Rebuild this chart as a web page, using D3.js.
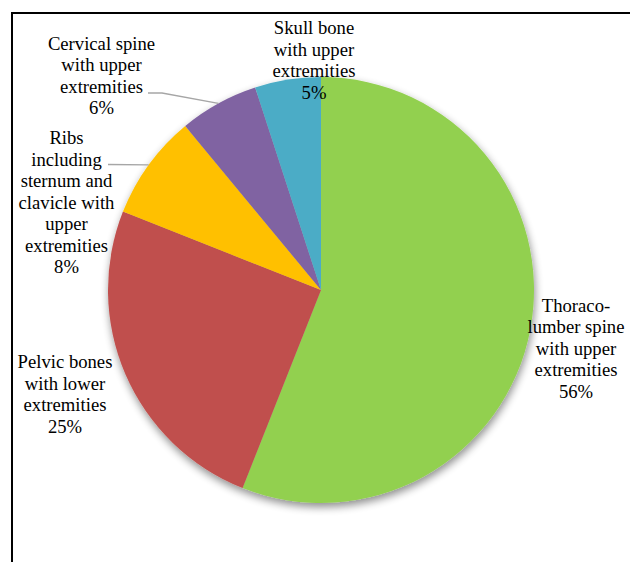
<!DOCTYPE html>
<html>
<head>
<meta charset="utf-8">
<script src="https://cdn.jsdelivr.net/npm/d3@7"></script>
<style>
  html, body { margin: 0; padding: 0; background: #fff; }
  svg { display: block; }
  .lbl { font-family: "Liberation Serif", "Times New Roman", Times, "DejaVu Serif", serif; }
</style>
</head>
<body>
<div id="chart"></div>
<script>
// ---- data ----
const categories = [
  ["Thoraco-", "lumber spine", "with upper", "extremities"],
  ["Pelvic bones", "with lower", "extremities"],
  ["Ribs", "including", "sternum and", "clavicle with", "upper", "extremities"],
  ["Cervical spine", "with upper", "extremities"],
  ["Skull bone", "with upper", "extremities"]
];
const values = [56, 25, 8, 6, 5];
const colors = ["#92D050", "#C0504D", "#FFC000", "#8064A2", "#4BACC6"];

// ---- layout ----
const W = 630, H = 562;
const cx = 321, cy = 290, R = 213;
const fontSize = 18.67, lineH = 21.5;
// label block anchor (centre x, first baseline) relative to pie centre
const labelOffsets = [[255, 21.5], [-256, 78], [-254.5, -146], [-219.5, -240.5], [-7, -256]];
// leader lines: label-side points relative to pie centre (null = none)
const leaders = [null, null, [[-213, -125.5]], [[-173, -197], [-159, -197]], null];

const svg = d3.select("#chart").append("svg").attr("width", W).attr("height", H);

// frame
svg.append("path")
  .attr("d", `M12,${H + 5} L12,13 L${W + 5},13`)
  .attr("fill", "none").attr("stroke", "#000").attr("stroke-width", 2);

const defs = svg.append("defs");
const f = defs.append("filter").attr("id", "shadow")
  .attr("x", "-20%").attr("y", "-20%").attr("width", "140%").attr("height", "140%");
f.append("feGaussianBlur").attr("in", "SourceAlpha").attr("stdDeviation", 4.5).attr("result", "b");
f.append("feOffset").attr("in", "b").attr("dx", 1).attr("dy", 4).attr("result", "o");
f.append("feComponentTransfer").attr("in", "o").attr("result", "s")
  .append("feFuncA").attr("type", "linear").attr("slope", 0.45);
const m = f.append("feMerge");
m.append("feMergeNode").attr("in", "s");
m.append("feMergeNode").attr("in", "SourceGraphic");

const total = d3.sum(values);
const pie = d3.pie().sort(null).value(d => d)(values);
const arc = d3.arc().innerRadius(0).outerRadius(R);

const g = svg.append("g").attr("transform", `translate(${cx},${cy})`);
const pieG = g.append("g").attr("filter", "url(#shadow)");
pieG.selectAll("path").data(pie).join("path")
  .attr("d", arc)
  .attr("fill", (d, i) => colors[i]);

// leader lines
pie.forEach((d, i) => {
  if (!leaders[i]) return;
  const a = (d.startAngle + d.endAngle) / 2;
  const end = [R * Math.sin(a), -R * Math.cos(a)];
  const pts = leaders[i].concat([end]);
  g.append("path")
    .attr("d", d3.line()(pts))
    .attr("fill", "none")
    .attr("stroke", "#A6A6A6")
    .attr("stroke-width", 1.3);
});

// labels
pie.forEach((d, i) => {
  const lines = categories[i].concat([Math.round(values[i] / total * 100) + "%"]);
  const [ox, oy] = labelOffsets[i];
  const t = g.append("text")
    .attr("class", "lbl")
    .attr("font-size", fontSize)
    .attr("fill", "#000")
    .attr("text-anchor", "middle");
  lines.forEach((ln, j) => {
    t.append("tspan").attr("x", ox).attr("y", oy + j * lineH).text(ln);
  });
});
</script>
</body>
</html>
